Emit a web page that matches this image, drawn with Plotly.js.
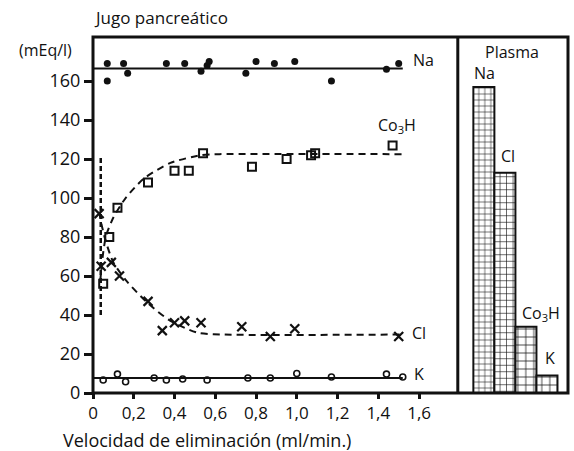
<!DOCTYPE html>
<html>
<head>
<meta charset="utf-8">
<script src="https://cdn.plot.ly/plotly-3.0.1.min.js"></script>
<style>html,body{margin:0;padding:0;background:#fff;}#chart{width:574px;height:451px;}</style>
</head>
<body>
<div id="chart"></div>
<script>
// --- Data ---
var naX = [0.07, 0.07, 0.15, 0.17, 0.36, 0.45, 0.53, 0.56, 0.57, 0.75, 0.80, 0.89, 0.99, 1.17, 1.44, 1.50];
var naY = [169, 160, 169, 164, 169, 169, 165, 168, 170, 164, 170, 169, 170, 160, 166, 169];
var co3hX = [0.05, 0.08, 0.12, 0.27, 0.40, 0.47, 0.54, 0.78, 0.95, 1.07, 1.09, 1.47];
var co3hY = [56, 80, 95, 108, 114, 114, 123, 116, 120, 122, 123, 127];
var clX = [0.03, 0.04, 0.09, 0.13, 0.27, 0.34, 0.40, 0.45, 0.53, 0.73, 0.87, 0.99, 1.50];
var clY = [92, 65, 67, 60, 47, 32, 36, 37, 36, 34, 29, 33, 29];
var kX = [0.05, 0.12, 0.16, 0.30, 0.36, 0.44, 0.56, 0.76, 0.87, 1.00, 1.17, 1.44, 1.52];
var kY = [6.7, 9.7, 5.8, 7.7, 6.7, 7.2, 6.7, 7.7, 7.7, 10, 8.2, 9.7, 8.2];

// fitted curves as drawn
var naFitX = [0, 1.52];
var naFitY = [166.5, 166.5];
var kFitX = [0, 1.52];
var kFitY = [7.7, 7.7];
var co3hFitX = [0.035, 0.05, 0.065, 0.1, 0.16, 0.25, 0.38, 0.53, 0.62, 1.52];
var co3hFitY = [57, 72, 81, 90, 100, 110, 118, 122, 122.5, 122.5];
var clFitX = [0.03, 0.045, 0.065, 0.1, 0.16, 0.27, 0.38, 0.51, 0.63, 1.52];
var clFitY = [93, 85, 77, 67, 58, 46, 37, 31, 30, 30];
var vertX = [0.038, 0.038];
var vertY = [40, 122];

// plasma bars
var plasmaIons = ['Na', 'Cl', 'Co3H', 'K'];
var plasmaValues = [157, 113, 34, 9];

// tick labels
var xTickVals = [0, 0.2, 0.4, 0.6, 0.8, 1.0, 1.2, 1.4, 1.6];
var xTickText = ['0', '0,2', '0,4', '0,6', '0,8', '1,0', '1,2', '1,4', '1,6'];
var yTickVals = [0, 20, 40, 60, 80, 100, 120, 140, 160];

var FONT = 'Open Sans, Lato, sans-serif';
var BLACK = '#111';

var traces = [
  {x: naFitX, y: naFitY, mode: 'lines', line: {color: BLACK, width: 2}, xaxis: 'x', yaxis: 'y'},
  {x: kFitX, y: kFitY, mode: 'lines', line: {color: BLACK, width: 2}},
  {x: co3hFitX, y: co3hFitY, mode: 'lines', line: {color: BLACK, width: 2, dash: '7px,5px', shape: 'spline', smoothing: 0.7}},
  {x: clFitX, y: clFitY, mode: 'lines', line: {color: BLACK, width: 2, dash: '7px,5px', shape: 'spline', smoothing: 0.7}},
  {x: vertX, y: vertY, mode: 'lines', line: {color: BLACK, width: 2.5, dash: '5px,3px'}},
  {x: naX, y: naY, mode: 'markers', marker: {symbol: 'circle', size: 7, color: BLACK}},
  {x: co3hX, y: co3hY, mode: 'markers', marker: {symbol: 'square-open', size: 8, color: BLACK, line: {width: 2, color: BLACK}}},
  {x: clX, y: clY, mode: 'markers', marker: {symbol: 'x-thin', size: 9, color: BLACK, line: {width: 2.2, color: BLACK}}},
  {x: kX, y: kY, mode: 'markers', marker: {symbol: 'circle-open', size: 6, color: BLACK, line: {width: 1.6, color: BLACK}}},
  {x: plasmaIons, y: plasmaValues, type: 'bar', xaxis: 'x2', yaxis: 'y', width: 1,
   marker: {color: 'white', line: {color: BLACK, width: 2},
            pattern: {shape: '+', size: [6, 6.5, 8, 8], solidity: 0.18, fgcolor: BLACK, bgcolor: 'white'}}}
];

var ann = function (text, x, y, xref, yref, xanchor, size) {
  return {text: text, x: x, y: y, xref: xref, yref: yref, xanchor: xanchor || 'center', yanchor: 'middle',
          showarrow: false, font: {family: FONT, size: size || 16, color: BLACK}};
};

var annotations = [
  ann('Na', 1.56, 171, 'x', 'y', 'left', 16),
  ann('Co<sub>3</sub>H', 1.39, 137, 'x', 'y', 'left', 16),
  ann('Cl', 1.555, 31, 'x', 'y', 'left', 16),
  ann('K', 1.565, 9.7, 'x', 'y', 'left', 16),
  ann('Plasma', 1.33, 175, 'x2', 'y', 'center', 16),
  ann('Na', 0.05, 164, 'x2', 'y', 'center', 16),
  ann('Cl', 1.14, 121.5, 'x2', 'y', 'center', 16),
  ann('Co<sub>3</sub>H', 2.71, 41, 'x2', 'y', 'center', 16),
  ann('K', 3.14, 18, 'x2', 'y', 'center', 16),
  ann('(mEq/l)', -0.099, 0.963, 'paper', 'paper', 'center', 16),
  ann('Velocidad de eliminación (ml/min.)', 0.24, -0.132, 'paper', 'paper', 'center', 18)
];

var layout = {
  width: 574, height: 451,
  margin: {l: 93, r: 6, t: 37, b: 58, pad: 0},
  paper_bgcolor: 'white', plot_bgcolor: 'white',
  showlegend: false,
  bargap: 0,
  font: {family: FONT, color: BLACK},
  title: {text: 'Jugo pancreático', x: 96 / 574, xanchor: 'left', xref: 'container',
          y: 1 - 18 / 451, yanchor: 'middle', yref: 'container', font: {family: FONT, size: 17, color: BLACK}},
  xaxis: {domain: [0, 0.768], range: [0, 1.79], tickvals: xTickVals, ticktext: xTickText,
          ticks: 'outside', ticklen: 5, tickwidth: 3, tickcolor: BLACK,
          showline: false, showgrid: false, zeroline: false,
          tickfont: {family: FONT, size: 17, color: BLACK}, anchor: 'y'},
  xaxis2: {domain: [0.768, 1], range: [-1.24, 4.0], showticklabels: false, ticks: '',
           showgrid: false, zeroline: false, showline: false, anchor: 'y'},
  yaxis: {range: [0, 182.6], tickvals: yTickVals, ticks: 'outside', ticklen: 8, tickwidth: 3, tickcolor: BLACK,
          showline: false, showgrid: false, zeroline: false,
          tickfont: {family: FONT, size: 18, color: BLACK}},
  shapes: [
    {type: 'rect', xref: 'paper', yref: 'paper', x0: 0, x1: 1, y0: 0, y1: 1, line: {color: BLACK, width: 3}},
    {type: 'line', xref: 'paper', yref: 'paper', x0: 0.768, x1: 0.768, y0: 0, y1: 1, line: {color: BLACK, width: 3}}
  ],
  annotations: annotations
};

Plotly.newPlot('chart', traces, layout, {displayModeBar: false, staticPlot: true});
</script>
</body>
</html>
